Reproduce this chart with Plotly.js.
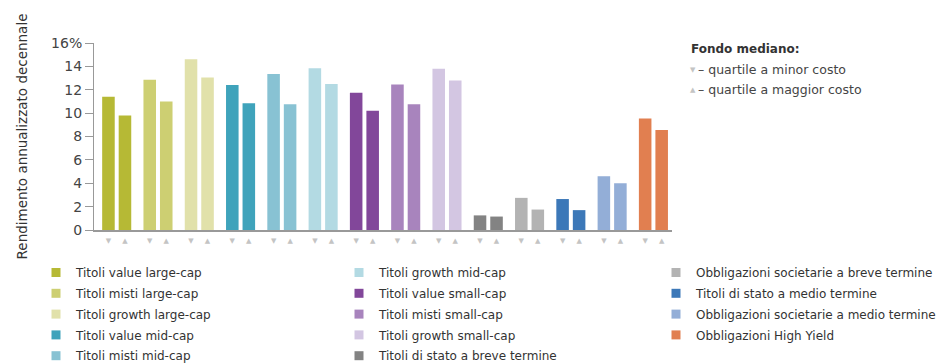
<!DOCTYPE html>
<html>
<head>
<meta charset="utf-8">
<script src="https://cdn.plot.ly/plotly-3.0.1.min.js"></script>
<style>html,body{margin:0;padding:0;background:#fff;}#chart{width:944px;height:364px;}</style>
</head>
<body>
<div id="chart"></div>
<script>
// ---- data ----
const categories = [
  "Titoli value large-cap",
  "Titoli misti large-cap",
  "Titoli growth large-cap",
  "Titoli value mid-cap",
  "Titoli misti mid-cap",
  "Titoli growth mid-cap",
  "Titoli value small-cap",
  "Titoli misti small-cap",
  "Titoli growth small-cap",
  "Titoli di stato a breve termine",
  "Obbligazioni societarie a breve termine",
  "Titoli di stato a medio termine",
  "Obbligazioni societarie a medio termine",
  "Obbligazioni High Yield"
];
const lowCostQuartile  = [11.4, 12.85, 14.6, 12.4, 13.35, 13.85, 11.75, 12.45, 13.8, 1.25, 2.75, 2.65, 4.6, 9.55];
const highCostQuartile = [9.8, 11.0, 13.05, 10.85, 10.75, 12.5, 10.2, 10.75, 12.8, 1.15, 1.75, 1.7, 4.0, 8.55];
const colors = [
  "#b6b935", "#cdcf72", "#e1e1aa", "#3fa3bb", "#88c2d3", "#b3dae3",
  "#82479a", "#a884bd", "#d3c6e2", "#838383", "#b3b3b3", "#3c78b8",
  "#93aed7", "#e17f50"
];
const legendColumn = [0, 0, 0, 0, 0, 1, 1, 1, 1, 1, 2, 2, 2, 2];
const yTickVals = [0, 2, 4, 6, 8, 10, 12, 14, 16];
const yTickText = ["0", "2", "4", "6", "8", "10", "12", "14", "16%"];
const yTitle = "Rendimento annualizzato decennale";
const noteTitle = "Fondo mediano:";
const noteSymbols = ["\u25BC", "\u25B2"];
const noteLabels = ["\u2013 quartile a minor costo", "\u2013 quartile a maggior costo"];
const groupMarker = "\u25BC\u00a0\u00a0\u00a0\u00a0\u00a0\u25B2";

// ---- layout geometry ----
const W = 944, H = 364;
const mL = 94, mR = 272, mT = 43, mB = 134;
const pw = W - mL - mR, ph = H - mT - mB;
const px = x => (x - mL) / pw;
const py = y => (H - mB - y) / ph;
const FONT = "DejaVu Sans, Verdana, sans-serif";

const traces = [
  {type: "bar", x: categories, y: lowCostQuartile, marker: {color: colors}, showlegend: false, hoverinfo: "skip"},
  {type: "bar", x: categories, y: highCostQuartile, marker: {color: colors}, showlegend: false, hoverinfo: "skip"}
];
const legendNames = ["legend", "legend2", "legend3"];
categories.forEach((c, i) => {
  traces.push({
    type: "scatter", mode: "markers", x: [null], y: [null], name: c,
    legend: legendNames[legendColumn[i]], legendgroup: "g" + i,
    marker: {symbol: "square", size: 9, color: colors[i]},
    hoverinfo: "skip"
  });
});

const annotations = [
  {text: noteTitle, x: px(689), y: py(49), xref: "paper", yref: "paper", xanchor: "left", yanchor: "middle",
   showarrow: false, font: {family: FONT, size: 12, color: "#333", weight: 600}}
];
noteLabels.forEach((t, i) => {
  annotations.push({text: noteSymbols[i], x: px(688), y: py(70 + 20 * i), xref: "paper", yref: "paper",
    xanchor: "left", yanchor: "middle", showarrow: false,
    font: {family: "DejaVu Sans", size: 7, color: "#c4c4c4"}});
  annotations.push({text: t, x: px(696), y: py(69 + 20 * i), xref: "paper", yref: "paper",
    xanchor: "left", yanchor: "middle", showarrow: false,
    font: {family: FONT, size: 12.5, color: "#444"}});
});

const legendBase = {
  orientation: "v", xanchor: "left", yanchor: "top", y: py(258),
  tracegroupgap: 1.8, traceorder: "grouped", itemclick: false,
  font: {family: FONT, size: 12, color: "#333"}, bgcolor: "rgba(0,0,0,0)"
};

const layout = {
  width: W, height: H,
  margin: {l: mL, r: mR, t: mT, b: mB, pad: 0, autoexpand: false},
  paper_bgcolor: "#fff", plot_bgcolor: "#fff",
  barmode: "group", bargap: 0.2, bargroupgap: 0.24,
  showlegend: true,
  legend: Object.assign({}, legendBase, {x: px(36)}),
  legend2: Object.assign({}, legendBase, {x: px(339)}),
  legend3: Object.assign({}, legendBase, {x: px(656)}),
  xaxis: {
    type: "category", range: [-0.55, 13.45],
    tickmode: "array", tickvals: categories, ticktext: categories.map(() => groupMarker),
    tickfont: {family: "DejaVu Sans", size: 7, color: "#c4c4c4"},
    ticks: "", ticklabelstandoff: 3, showgrid: false, zeroline: false,
    showline: true, linecolor: "#999", linewidth: 2
  },
  yaxis: {
    range: [0, 16], tickmode: "array", tickvals: yTickVals, ticktext: yTickText,
    ticks: "outside", ticklen: 8, tickcolor: "#999", tickwidth: 1,
    showline: true, linecolor: "#999", linewidth: 1,
    showgrid: false, zeroline: false,
    tickfont: {family: FONT, size: 14, color: "#444"},
    title: {text: yTitle, font: {family: FONT, size: 13.5, color: "#333"}, standoff: 20}
  },
  annotations: annotations
};

Plotly.newPlot("chart", traces, layout, {displayModeBar: false, staticPlot: true});
</script>
</body>
</html>
